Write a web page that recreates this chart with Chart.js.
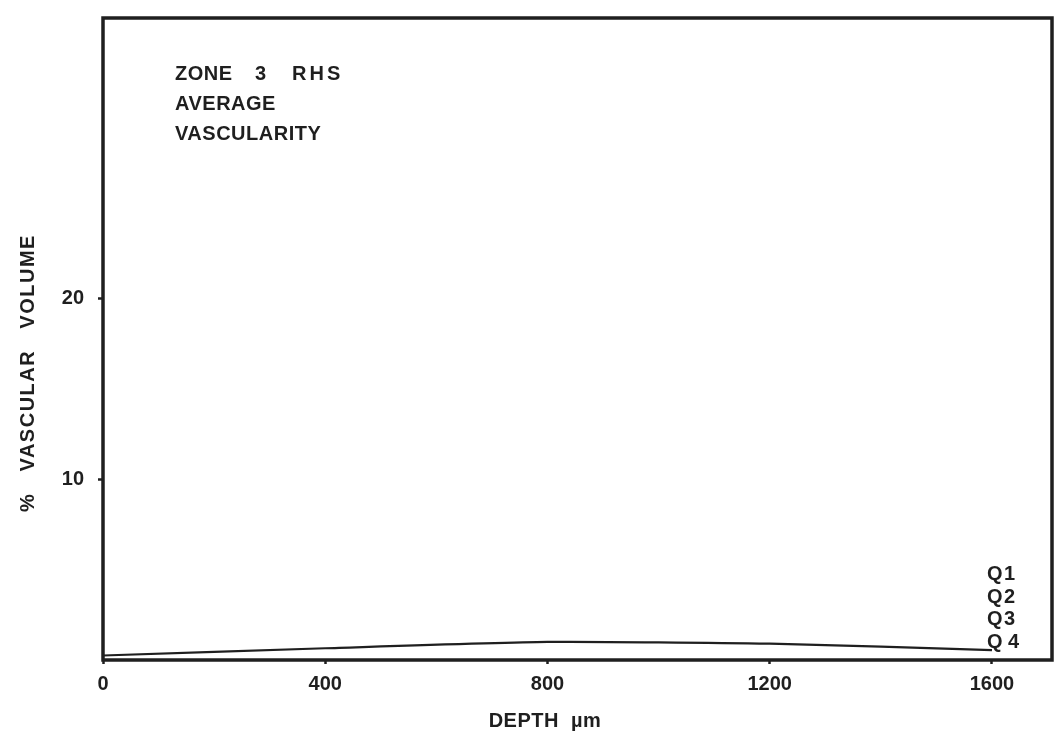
<!DOCTYPE html>
<html>
<head>
<meta charset="utf-8">
<script src="https://cdn.jsdelivr.net/npm/chart.js@4.4.0/dist/chart.umd.min.js"></script>
<style>
  html, body { margin: 0; padding: 0; background: #fff; }
  #wrap { width: 1056px; height: 736px; }
</style>
</head>
<body>
<div id="wrap"><canvas id="vascChart" width="1056" height="736"></canvas></div>
<script>
// Average vascularity against depth, zone 3 right hand side
const depths = [0, 400, 800, 1200, 1600];
const vascularVolume = [0.25, 0.65, 1.0, 0.9, 0.55];
const xTickValues = [0, 400, 800, 1200, 1600];
const yTickValues = [10, 20];
const quarterLabels = ['Q1', 'Q2', 'Q3', 'Q4'];
const headingLines = ['ZONE', '3', 'RHS', 'AVERAGE', 'VASCULARITY'];

const ink = '#1f1f1f';
const fontFamily = "'Liberation Sans', Arial, sans-serif";

// frame round the plot area plus the free text
const annotations = {
    id: 'annotations',
    afterDraw(chart) {
        const ctx = chart.ctx;
        const area = chart.chartArea;
        const xs = chart.scales.x;
        ctx.save();
        ctx.strokeStyle = ink;
        ctx.lineWidth = 3.5;
        ctx.strokeRect(area.left, area.top, area.right - area.left, area.bottom - area.top);

        ctx.fillStyle = ink;
        ctx.textBaseline = 'middle';
        ctx.textAlign = 'left';
        ctx.font = 'bold 20px ' + fontFamily;
        ctx.letterSpacing = '0.5px';

        // heading block
        ctx.fillText(headingLines[0], 175, 74);
        ctx.fillText(headingLines[1], 255, 74);
        ctx.letterSpacing = '3px';
        ctx.fillText(headingLines[2], 292, 74);
        ctx.letterSpacing = '0.5px';
        ctx.fillText(headingLines[3], 175, 104);
        ctx.fillText(headingLines[4], 175, 134);

        // quarter labels stacked at the end of the line
        const qx = xs.getPixelForValue(1600) - 5;
        quarterLabels.forEach((q, i) => {
            const y = area.bottom - 18 - (quarterLabels.length - 1 - i) * 22.5;
            ctx.fillText(q.charAt(0), qx, y);
            ctx.fillText(q.slice(1), qx + (i === 3 ? 21 : 17), y);
        });

        // axis titles
        ctx.textAlign = 'center';
        ctx.fillText('DEPTH  µm', 545, 721);

        ctx.save();
        ctx.translate(28, 373);
        ctx.rotate(-Math.PI / 2);
        ctx.letterSpacing = '1.5px';
        ctx.fillText('%   VASCULAR   VOLUME', 0, 0);
        ctx.restore();

        ctx.restore();
    }
};

const ctx = document.getElementById('vascChart').getContext('2d');

new Chart(ctx, {
    type: 'line',
    data: {
        datasets: [{
            label: 'Vascular volume',
            data: depths.map((d, i) => ({ x: d, y: vascularVolume[i] })),
            borderColor: ink,
            borderWidth: 2.2,
            pointRadius: 0,
            tension: 0.2,
            fill: false
        }]
    },
    options: {
        responsive: false,
        animation: false,
        layout: {
            padding: { left: 0, right: 4, top: 18, bottom: 0 }
        },
        plugins: {
            legend: { display: false },
            tooltip: { enabled: false }
        },
        scales: {
            x: {
                type: 'linear',
                min: 0,
                max: 1708,
                afterFit: s => {
                    s.height = 76;
                    s.paddingLeft = 0;
                    s.paddingRight = 0;
                },
                afterBuildTicks: s => { s.ticks = xTickValues.map(v => ({ value: v })); },
                border: { display: false },
                grid: {
                    drawOnChartArea: false,
                    drawTicks: true,
                    tickLength: 4,
                    tickWidth: 2.5,
                    color: ink
                },
                ticks: {
                    color: ink,
                    padding: 8,
                    maxRotation: 0,
                    callback: v => String(v),
                    font: { family: fontFamily, size: 20, weight: 'bold' }
                }
            },
            y: {
                min: 0,
                max: 35.5,
                afterFit: s => {
                    s.width = 103;
                    s.paddingTop = 0;
                    s.paddingBottom = 0;
                },
                afterBuildTicks: s => { s.ticks = yTickValues.map(v => ({ value: v })); },
                border: { display: false },
                grid: {
                    drawOnChartArea: false,
                    drawTicks: true,
                    tickLength: 5,
                    tickWidth: 2.5,
                    color: ink
                },
                ticks: {
                    color: ink,
                    padding: 14,
                    callback: v => String(v),
                    font: { family: fontFamily, size: 20, weight: 'bold' }
                }
            }
        }
    },
    plugins: [annotations]
});
</script>
</body>
</html>
